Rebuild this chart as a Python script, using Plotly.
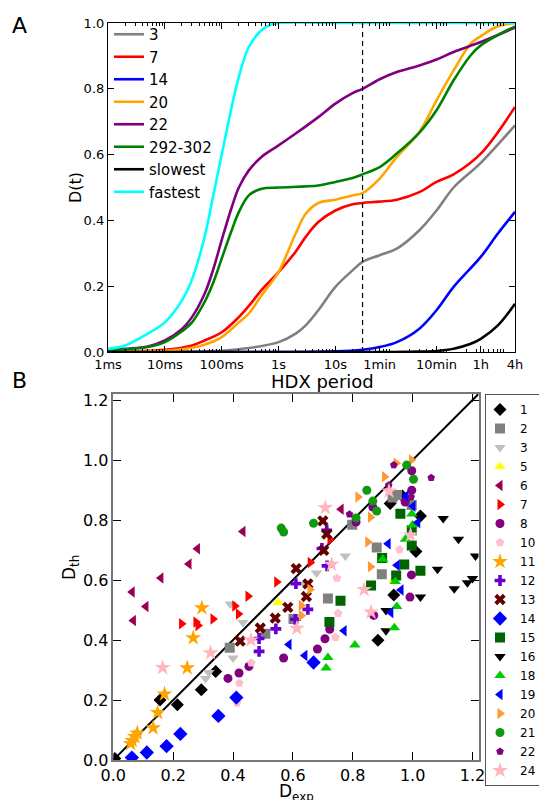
import plotly.graph_objects as go

# page is 547x800; the browser body adds an 8px margin, so the figure is 539x792
PAGE_OFF = 8
W, H = 547 - PAGE_OFF, 800 - PAGE_OFF
FONT = "DejaVu Sans"

# ---------------- Panel A data: HDX curves (time in seconds, D(t)) ----------------
T_3 = [0.001, 0.1, 0.3, 1, 2, 3, 5, 10, 20, 30, 60, 120, 300, 600, 1200, 3600, 14400]
D_3 = [0.0, 0.004, 0.012, 0.03, 0.056, 0.081, 0.127, 0.198, 0.248, 0.274, 0.294, 0.314, 0.37, 0.43, 0.50, 0.575, 0.689]

T_7 = [0.001, 0.01, 0.03, 0.05, 0.1, 0.2, 0.3, 0.5, 0.7, 1, 2, 3, 5, 10, 20, 30, 60, 120, 300, 600, 1200, 3600, 14400]
D_7 = [0.002, 0.007, 0.02, 0.035, 0.06, 0.106, 0.14, 0.188, 0.215, 0.243, 0.305, 0.35, 0.395, 0.43, 0.449, 0.453, 0.457, 0.463, 0.486, 0.517, 0.54, 0.603, 0.745]

T_14 = [0.001, 1, 10, 30, 60, 120, 300, 600, 1200, 3600, 7200, 14400]
D_14 = [0.0, 0.0, 0.002, 0.007, 0.015, 0.03, 0.071, 0.127, 0.198, 0.289, 0.36, 0.426]

T_20 = [0.001, 0.01, 0.03, 0.05, 0.1, 0.2, 0.3, 0.5, 0.7, 1, 2, 3, 5, 10, 20, 30, 60, 120, 300, 600, 1200, 2400, 3600, 7200, 14400]
D_20 = [0.001, 0.004, 0.013, 0.022, 0.045, 0.09, 0.117, 0.172, 0.205, 0.243, 0.36, 0.42, 0.453, 0.463, 0.476, 0.483, 0.527, 0.593, 0.669, 0.765, 0.856, 0.937, 0.96, 0.99, 1.0]

T_22 = [0.001, 0.005, 0.01, 0.02, 0.03, 0.05, 0.07, 0.1, 0.15, 0.2, 0.3, 0.5, 1, 2, 5, 10, 20, 30, 60, 120, 300, 600, 1200, 3600, 14400]
D_22 = [0.008, 0.017, 0.035, 0.07, 0.106, 0.177, 0.248, 0.34, 0.44, 0.50, 0.552, 0.593, 0.628, 0.664, 0.714, 0.755, 0.787, 0.80, 0.829, 0.851, 0.871, 0.889, 0.912, 0.942, 0.986]

T_292 = [0.001, 0.005, 0.01, 0.02, 0.03, 0.05, 0.07, 0.1, 0.15, 0.2, 0.3, 0.5, 1, 5, 10, 20, 30, 60, 120, 300, 600, 1200, 2400, 3600, 14400]
D_292 = [0.005, 0.015, 0.03, 0.063, 0.09, 0.152, 0.208, 0.284, 0.37, 0.425, 0.476, 0.496, 0.50, 0.506, 0.517, 0.529, 0.54, 0.562, 0.603, 0.667, 0.735, 0.826, 0.902, 0.932, 0.99]

T_SLOW = [0.001, 10, 100, 300, 600, 1200, 2400, 3600, 7200, 14400]
D_SLOW = [0.0, 0.0, 0.0, 0.001, 0.003, 0.01, 0.025, 0.04, 0.081, 0.147]

T_FAST = [0.001, 0.002, 0.005, 0.01, 0.02, 0.03, 0.05, 0.07, 0.1, 0.15, 0.2, 0.3, 0.5, 0.7, 1, 10, 100, 1000, 14400]
D_FAST = [0.01, 0.02, 0.056, 0.09, 0.157, 0.22, 0.35, 0.47, 0.60, 0.745, 0.836, 0.927, 0.978, 0.994, 1.0, 1.0, 1.0, 1.0, 1.0]

REF_TIME = 30  # dashed reference line (s)

TICK_VALS_A = [0.001, 0.01, 0.1, 1, 10, 60, 600, 3600, 14400]
TICK_TEXT_A = ["1ms", "10ms", "100ms", "1s", "10s", "1min", "10min", "1h", "4h"]

# ---------------- Panel B data: D_exp vs D_th ----------------
S1_X = [0.005, 0.156, 0.214, 0.294, 0.342, 0.884, 0.937, 0.925, 0.966, 1.026, 1.011]
S1_Y = [0.005, 0.200, 0.184, 0.234, 0.295, 0.399, 0.550, 0.855, 0.880, 0.813, 0.695]
S2_X = [0.389, 0.508, 0.602, 0.717, 0.897, 0.880, 0.798, 0.933, 0.948, 0.997]
S2_Y = [0.374, 0.421, 0.470, 0.538, 0.619, 0.708, 0.784, 0.875, 0.883, 0.850]
S3_X = [0.308, 0.319, 0.400, 0.391, 0.433, 0.640, 0.679, 0.775]
S3_Y = [0.272, 0.292, 0.340, 0.520, 0.458, 0.585, 0.623, 0.680]
S5_X = [0.550, 0.937]
S5_Y = [0.525, 0.600]
S6_X = [0.063, 0.067, 0.109, 0.159, 0.253, 0.281, 0.433, 0.761]
S6_Y = [0.560, 0.465, 0.512, 0.607, 0.653, 0.704, 0.762, 0.836]
S7_X = [0.228, 0.276, 0.283, 0.333, 0.406, 0.418, 0.450, 0.546, 0.658, 0.724]
S7_Y = [0.454, 0.460, 0.448, 0.470, 0.513, 0.487, 0.546, 0.593, 0.658, 0.735]
S8_X = [0.383, 0.420, 0.453, 0.569, 0.682, 0.707, 0.723, 0.870, 0.991, 0.996, 0.811, 0.867, 0.975, 0.997, 0.997]
S8_Y = [0.272, 0.290, 0.312, 0.340, 0.370, 0.404, 0.436, 0.482, 0.543, 0.617, 0.793, 0.843, 0.860, 0.899, 0.964]
S10_X = [0.413, 0.421, 0.461, 0.742, 0.751, 0.747, 0.956]
S10_Y = [0.190, 0.256, 0.324, 0.409, 0.489, 0.606, 0.701]
S11_X = [0.058, 0.063, 0.072, 0.080, 0.133, 0.148, 0.171, 0.247, 0.267, 0.296]
S11_Y = [0.055, 0.065, 0.078, 0.090, 0.107, 0.158, 0.220, 0.307, 0.407, 0.507]
S12_X = [0.487, 0.487, 0.543, 0.608, 0.610, 0.650, 0.714, 0.697, 0.713]
S12_Y = [0.362, 0.405, 0.437, 0.469, 0.588, 0.502, 0.647, 0.705, 0.766]
S13_X = [0.424, 0.491, 0.541, 0.583, 0.611, 0.650, 0.645, 0.700, 0.713, 0.703]
S13_Y = [0.396, 0.440, 0.473, 0.509, 0.638, 0.587, 0.545, 0.797, 0.753, 0.699]
S14_X = [0.062, 0.112, 0.178, 0.224, 0.351, 0.411, 0.669]
S14_Y = [0.008, 0.025, 0.046, 0.087, 0.147, 0.208, 0.325]
S15_X = [0.722, 0.759, 0.861, 0.945, 0.972, 1.026, 0.898, 0.997, 0.997, 0.959]
S15_Y = [0.460, 0.531, 0.582, 0.615, 0.652, 0.631, 0.673, 0.715, 0.766, 0.821]
S16_X = [1.102, 1.153, 1.210, 1.083, 1.139, 1.183, 1.200, 1.026, 0.911, 0.911]
S16_Y = [0.805, 0.736, 0.680, 0.636, 0.571, 0.591, 0.605, 0.543, 0.498, 0.431]
S18_X = [0.711, 0.717, 0.807, 0.939, 0.947, 0.942, 0.900, 0.976, 1.000, 0.997]
S18_Y = [0.307, 0.342, 0.383, 0.441, 0.512, 0.595, 0.669, 0.736, 0.783, 0.820]
S19_X = [0.587, 0.640, 0.771, 0.927, 0.961, 0.948, 0.918, 1.017, 1.001, 0.978]
S19_Y = [0.385, 0.348, 0.431, 0.492, 0.567, 0.649, 0.721, 0.792, 0.846, 0.880]
S20_X = [0.628, 0.628, 0.657, 0.859, 0.850, 0.859, 0.817, 0.906, 0.945, 0.996]
S20_Y = [0.482, 0.515, 0.568, 0.644, 0.727, 0.809, 0.877, 0.944, 0.989, 1.000]
S21_X = [0.561, 0.569, 0.669, 0.811, 0.847, 0.867, 0.880, 0.980, 1.003]
S21_Y = [0.773, 0.760, 0.789, 0.807, 0.899, 0.863, 0.830, 0.983, 0.936]
S22_X = [0.789, 0.920, 0.937, 0.995, 1.062]
S22_Y = [0.819, 0.916, 0.983, 0.877, 0.941]
S24_X = [0.165, 0.325, 0.460, 0.613, 0.708, 0.729, 0.838, 0.861, 0.921, 0.993]
S24_Y = [0.308, 0.357, 0.400, 0.439, 0.841, 0.652, 0.568, 0.493, 0.896, 0.750]

RANGE_B = [0.0, 1.22]
TICKS_B = [0.0, 0.2, 0.4, 0.6, 0.8, 1.0, 1.2]

fig = go.Figure()

# ---------------- Panel A traces ----------------
curves = [
    ("3", T_3, D_3, "#808080"),
    ("7", T_7, D_7, "#ff0000"),
    ("14", T_14, D_14, "#0000ff"),
    ("20", T_20, D_20, "#ffa500"),
    ("22", T_22, D_22, "#800080"),
    ("292-302", T_292, D_292, "#008000"),
    ("slowest", T_SLOW, D_SLOW, "#000000"),
    ("fastest", T_FAST, D_FAST, "#00ffff"),
]
for name, t, d, col in curves:
    fig.add_trace(go.Scatter(x=t, y=d, mode="lines", name=name,
                             line=dict(color=col, width=2.6, shape="spline", smoothing=1.0),
                             xaxis="x", yaxis="y", legend="legend"))

fig.add_trace(go.Scatter(x=[REF_TIME, REF_TIME], y=[0, 1], mode="lines", showlegend=False,
                         line=dict(color="black", width=1.2, dash="5px,4px"),
                         xaxis="x", yaxis="y"))

# ---------------- Panel B traces ----------------
fig.add_trace(go.Scatter(x=RANGE_B, y=RANGE_B, mode="lines", showlegend=False,
                         line=dict(color="black", width=2), xaxis="x2", yaxis="y2"))

series = [
    ("1", S1_X, S1_Y, "#000000", "diamond", 10),
    ("2", S2_X, S2_Y, "#808080", "square", 10),
    ("3", S3_X, S3_Y, "#c0c0c0", "triangle-down", 10),
    ("5", S5_X, S5_Y, "#ffff00", "triangle-up", 10),
    ("6", S6_X, S6_Y, "#990055", "triangle-left", 10),
    ("7", S7_X, S7_Y, "#ff0000", "triangle-right", 10),
    ("8", S8_X, S8_Y, "#800080", "circle", 9),
    ("10", S10_X, S10_Y, "#ffc0cb", "pentagon", 9),
    ("11", S11_X, S11_Y, "#ffa500", "star", 12),
    ("12", S12_X, S12_Y, "#6600cc", "cross", 9),
    ("13", S13_X, S13_Y, "#660000", "x", 10),
    ("14", S14_X, S14_Y, "#0000ff", "diamond", 11),
    ("15", S15_X, S15_Y, "#006400", "square", 10),
    ("16", S16_X, S16_Y, "#000000", "triangle-down", 10),
    ("18", S18_X, S18_Y, "#00cc00", "triangle-up", 10),
    ("19", S19_X, S19_Y, "#0000ff", "triangle-left", 10),
    ("20", S20_X, S20_Y, "#ff9933", "triangle-right", 10),
    ("21", S21_X, S21_Y, "#119911", "circle", 9),
    ("22", S22_X, S22_Y, "#800080", "pentagon", 8),
    ("24", S24_X, S24_Y, "#ffb6c1", "star", 12),
]
for name, xs, ys, col, sym, sz in series:
    fig.add_trace(go.Scatter(x=xs, y=ys, mode="markers", name=name,
                             marker=dict(color=col, symbol=sym, size=sz, line=dict(width=0)),
                             xaxis="x2", yaxis="y2", legend="legend2"))

# ---------------- Layout (positions given in page pixels) ----------------
def px(p):
    return (p - PAGE_OFF) / W

def py(p):
    return 1 - (p - PAGE_OFF) / H

def xd(a, b):
    return [px(a), px(b)]

def yd(top, bottom):
    return [py(bottom), py(top)]

minor_vals = []
for k in range(-3, 5):
    for m in range(2, 10):
        v = m * 10 ** k
        if 0.001 < v < 14400:
            minor_vals.append(v)

def ann(text, x, y, size, angle=0):
    return dict(text=text, x=px(x), y=py(y), xref="paper", yref="paper",
                xanchor="center", yanchor="middle", showarrow=False, textangle=angle,
                font=dict(size=size, family=FONT, color="black"))

fig.update_layout(
    width=W, height=H,
    margin=dict(l=0, r=0, t=0, b=0, autoexpand=False),
    paper_bgcolor="white", plot_bgcolor="white",
    font=dict(family=FONT, color="black"),
    xaxis=dict(
        domain=xd(108, 515), type="log", range=[-3, 4.1584],
        tickmode="array", tickvals=TICK_VALS_A, ticktext=TICK_TEXT_A,
        ticks="inside", ticklen=6, tickwidth=1, tickcolor="black",
        minor=dict(tickmode="array", tickvals=minor_vals, ticks="inside", ticklen=3, tickcolor="black"),
        showline=True, linecolor="black", linewidth=1.2, mirror="ticks",
        showgrid=False, zeroline=False,
        tickfont=dict(size=13, family=FONT),
        anchor="y", automargin=False,
    ),
    yaxis=dict(
        domain=yd(23, 352), range=[0, 1],
        tickmode="array", tickvals=[0, 0.2, 0.4, 0.6, 0.8, 1.0],
        ticktext=["0.0", "0.2", "0.4", "0.6", "0.8", "1.0"],
        ticks="inside", ticklen=6, tickcolor="black",
        showline=True, linecolor="black", linewidth=1.2, mirror="ticks",
        showgrid=False, zeroline=False,
        tickfont=dict(size=13, family=FONT),
        anchor="x", automargin=False,
    ),
    xaxis2=dict(
        domain=xd(113.3, 478.5), range=RANGE_B,
        tickmode="array", tickvals=TICKS_B, ticktext=[f"{v:.1f}" for v in TICKS_B],
        ticks="inside", ticklen=8, tickwidth=1.2, tickcolor="black",
        showline=True, linecolor="#777777", linewidth=1.5, mirror="ticks",
        showgrid=False, zeroline=False,
        tickfont=dict(size=16, family=FONT),
        anchor="y2", automargin=False,
    ),
    yaxis2=dict(
        domain=yd(394, 760), range=RANGE_B,
        tickmode="array", tickvals=TICKS_B, ticktext=[f"{v:.1f}" for v in TICKS_B],
        ticks="inside", ticklen=8, tickwidth=1.2, tickcolor="black",
        showline=True, linecolor="#777777", linewidth=1.5, mirror="ticks",
        showgrid=False, zeroline=False,
        tickfont=dict(size=16, family=FONT),
        anchor="x2", automargin=False,
    ),
    legend=dict(
        x=px(109), y=py(18), xanchor="left", yanchor="top",
        bgcolor="rgba(255,255,255,0)", borderwidth=0,
        font=dict(size=15, family=FONT), itemwidth=30, tracegroupgap=0,
    ),
    legend2=dict(
        x=px(485), y=py(394), xanchor="left", yanchor="top",
        bgcolor="white", bordercolor="#555555", borderwidth=1,
        font=dict(size=12, family=FONT), itemwidth=30, tracegroupgap=0,
        indentation=-6,
    ),
    annotations=[
        ann("A", 19, 26, 22),
        ann("B", 19, 380, 22),
        ann("HDX period", 322, 381, 18),
        ann("D(t)", 75, 188, 16, -90),
        ann("D<sub>exp</sub>", 296, 792, 17),
        ann("D<sub>th</sub>", 70, 568, 17, -90),
    ],
)

fig.write_html("out.html")
